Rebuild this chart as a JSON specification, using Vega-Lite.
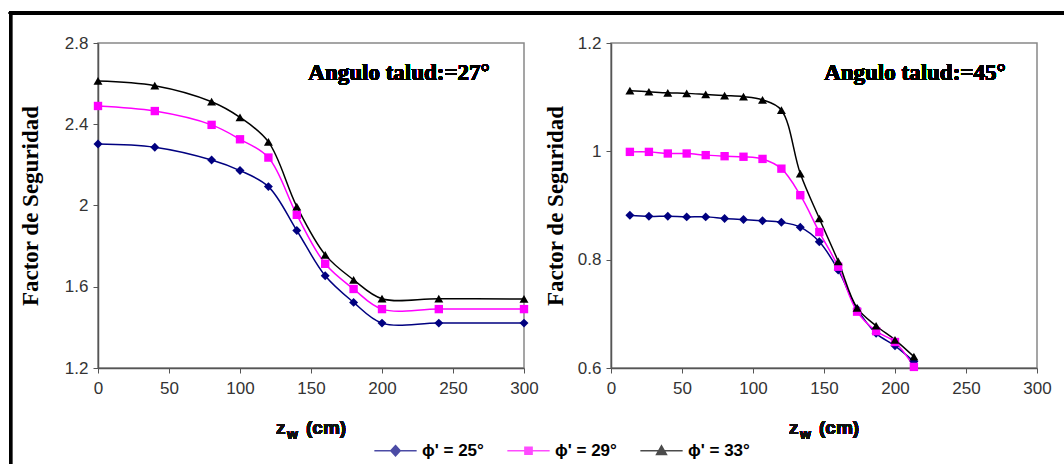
{
  "$schema": "https://vega.github.io/schema/vega-lite/v6.json",
  "padding": {"left": 6, "top": 9, "right": 0, "bottom": 0},
  "bounds": "flush",
  "spacing": 87,
  "datasets": {
    "s27": [
      {"z": 0, "fs": 2.303, "phi": "ϕ' = 25°"}, {"z": 40, "fs": 2.287, "phi": "ϕ' = 25°"}, {"z": 80, "fs": 2.224, "phi": "ϕ' = 25°"}, {"z": 100, "fs": 2.172, "phi": "ϕ' = 25°"}, {"z": 120, "fs": 2.093, "phi": "ϕ' = 25°"}, {"z": 140, "fs": 1.877, "phi": "ϕ' = 25°"}, {"z": 160, "fs": 1.654, "phi": "ϕ' = 25°"}, {"z": 180, "fs": 1.523, "phi": "ϕ' = 25°"}, {"z": 200, "fs": 1.421, "phi": "ϕ' = 25°"}, {"z": 240, "fs": 1.421, "phi": "ϕ' = 25°"}, {"z": 300, "fs": 1.421, "phi": "ϕ' = 25°"},
      {"z": 0, "fs": 2.49, "phi": "ϕ' = 29°"}, {"z": 40, "fs": 2.465, "phi": "ϕ' = 29°"}, {"z": 80, "fs": 2.397, "phi": "ϕ' = 29°"}, {"z": 100, "fs": 2.326, "phi": "ϕ' = 29°"}, {"z": 120, "fs": 2.236, "phi": "ϕ' = 29°"}, {"z": 140, "fs": 1.954, "phi": "ϕ' = 29°"}, {"z": 160, "fs": 1.713, "phi": "ϕ' = 29°"}, {"z": 180, "fs": 1.589, "phi": "ϕ' = 29°"}, {"z": 200, "fs": 1.49, "phi": "ϕ' = 29°"}, {"z": 240, "fs": 1.49, "phi": "ϕ' = 29°"}, {"z": 300, "fs": 1.49, "phi": "ϕ' = 29°"},
      {"z": 0, "fs": 2.613, "phi": "ϕ' = 33°"}, {"z": 40, "fs": 2.59, "phi": "ϕ' = 33°"}, {"z": 80, "fs": 2.511, "phi": "ϕ' = 33°"}, {"z": 100, "fs": 2.434, "phi": "ϕ' = 33°"}, {"z": 120, "fs": 2.313, "phi": "ϕ' = 33°"}, {"z": 140, "fs": 1.995, "phi": "ϕ' = 33°"}, {"z": 160, "fs": 1.757, "phi": "ϕ' = 33°"}, {"z": 180, "fs": 1.634, "phi": "ϕ' = 33°"}, {"z": 200, "fs": 1.541, "phi": "ϕ' = 33°"}, {"z": 240, "fs": 1.541, "phi": "ϕ' = 33°"}, {"z": 300, "fs": 1.54, "phi": "ϕ' = 33°"}
    ],
    "s45": [
      {"z": 13.3, "fs": 0.882, "phi": "ϕ' = 25°"}, {"z": 26.7, "fs": 0.88, "phi": "ϕ' = 25°"}, {"z": 40, "fs": 0.88, "phi": "ϕ' = 25°"}, {"z": 53.3, "fs": 0.879, "phi": "ϕ' = 25°"}, {"z": 66.7, "fs": 0.879, "phi": "ϕ' = 25°"}, {"z": 80, "fs": 0.876, "phi": "ϕ' = 25°"}, {"z": 93.3, "fs": 0.874, "phi": "ϕ' = 25°"}, {"z": 106.7, "fs": 0.872, "phi": "ϕ' = 25°"}, {"z": 120, "fs": 0.869, "phi": "ϕ' = 25°"}, {"z": 133.3, "fs": 0.86, "phi": "ϕ' = 25°"}, {"z": 146.7, "fs": 0.833, "phi": "ϕ' = 25°"}, {"z": 160, "fs": 0.781, "phi": "ϕ' = 25°"}, {"z": 173.3, "fs": 0.709, "phi": "ϕ' = 25°"}, {"z": 186.7, "fs": 0.664, "phi": "ϕ' = 25°"}, {"z": 200, "fs": 0.641, "phi": "ϕ' = 25°"}, {"z": 213.3, "fs": 0.612, "phi": "ϕ' = 25°"},
      {"z": 13.3, "fs": 0.999, "phi": "ϕ' = 29°"}, {"z": 26.7, "fs": 0.999, "phi": "ϕ' = 29°"}, {"z": 40, "fs": 0.996, "phi": "ϕ' = 29°"}, {"z": 53.3, "fs": 0.996, "phi": "ϕ' = 29°"}, {"z": 66.7, "fs": 0.993, "phi": "ϕ' = 29°"}, {"z": 80, "fs": 0.991, "phi": "ϕ' = 29°"}, {"z": 93.3, "fs": 0.99, "phi": "ϕ' = 29°"}, {"z": 106.7, "fs": 0.986, "phi": "ϕ' = 29°"}, {"z": 120, "fs": 0.968, "phi": "ϕ' = 29°"}, {"z": 133.3, "fs": 0.919, "phi": "ϕ' = 29°"}, {"z": 146.7, "fs": 0.851, "phi": "ϕ' = 29°"}, {"z": 160, "fs": 0.787, "phi": "ϕ' = 29°"}, {"z": 173.3, "fs": 0.704, "phi": "ϕ' = 29°"}, {"z": 186.7, "fs": 0.668, "phi": "ϕ' = 29°"}, {"z": 200, "fs": 0.648, "phi": "ϕ' = 29°"}, {"z": 213.3, "fs": 0.602, "phi": "ϕ' = 29°"},
      {"z": 13.3, "fs": 1.112, "phi": "ϕ' = 33°"}, {"z": 26.7, "fs": 1.11, "phi": "ϕ' = 33°"}, {"z": 40, "fs": 1.108, "phi": "ϕ' = 33°"}, {"z": 53.3, "fs": 1.107, "phi": "ϕ' = 33°"}, {"z": 66.7, "fs": 1.105, "phi": "ϕ' = 33°"}, {"z": 80, "fs": 1.103, "phi": "ϕ' = 33°"}, {"z": 93.3, "fs": 1.101, "phi": "ϕ' = 33°"}, {"z": 106.7, "fs": 1.095, "phi": "ϕ' = 33°"}, {"z": 120, "fs": 1.076, "phi": "ϕ' = 33°"}, {"z": 133.3, "fs": 0.959, "phi": "ϕ' = 33°"}, {"z": 146.7, "fs": 0.876, "phi": "ϕ' = 33°"}, {"z": 160, "fs": 0.797, "phi": "ϕ' = 33°"}, {"z": 173.3, "fs": 0.711, "phi": "ϕ' = 33°"}, {"z": 186.7, "fs": 0.678, "phi": "ϕ' = 33°"}, {"z": 200, "fs": 0.652, "phi": "ϕ' = 33°"}, {"z": 213.3, "fs": 0.621, "phi": "ϕ' = 33°"}
    ]
  },
  "hconcat": [
    {
      "width": 426,
      "height": 325,
      "data": {"name": "s27"},
      "layer": [
        {
          "transform": [{"filter": {"field": "z", "lt": -1}}],
          "mark": {"type": "point", "filled": false, "strokeWidth": 1.5},
          "encoding": {
            "x": {"field": "z", "type": "quantitative", "scale": {"domain": [0, 300]}, "axis": {"values": [0, 50, 100, 150, 200, 250, 300], "title": null}},
            "y": {"field": "fs", "type": "quantitative", "scale": {"domain": [1.2, 2.8]}, "axis": {"values": [1.2, 1.6, 2, 2.4, 2.8], "format": "~g", "title": "Factor de Seguridad", "titlePadding": 22}},
            "color": {"field": "phi", "type": "nominal",
              "scale": {"domain": ["ϕ' = 25°", "ϕ' = 29°", "ϕ' = 33°"], "range": ["#000080", "#FF00FF", "#000000"]},
              "legend": {"title": null, "orient": "none", "legendX": 289, "legendY": 399, "padding": 0, "direction": "horizontal", "symbolSize": 81, "symbolStrokeWidth": 1.5, "labelFont": "Liberation Sans", "labelFontSize": 17, "labelFontWeight": "bold", "labelColor": "#000", "labelOffset": 18, "columnPadding": 20}},
            "shape": {"field": "phi", "type": "nominal",
              "scale": {"domain": ["ϕ' = 25°", "ϕ' = 29°", "ϕ' = 33°"], "range": ["M-4.7,0H4.7M0,-1.15L1.05,0L0,1.15L-1.05,0ZM0,-0.8L0.73,0L0,0.8L-0.73,0ZM0,-0.45L0.41,0L0,0.45L-0.41,0Z", "M-4.7,0H4.7M-0.8,-0.8H0.8V0.8H-0.8ZM-0.5,-0.5H0.5V0.5H-0.5ZM-0.2,-0.2H0.2V0.2H-0.2Z", "M-4.7,0H4.7M0,-1.1L1.1,0.85H-1.1ZM0,-0.65L0.65,0.5H-0.65ZM0,-0.25L0.25,0.2H-0.25Z"]},
              "legend": {"title": null, "orient": "none", "legendX": 289, "legendY": 399, "padding": 0, "direction": "horizontal", "symbolSize": 81, "symbolStrokeWidth": 1.5, "labelFont": "Liberation Sans", "labelFontSize": 17, "labelFontWeight": "bold", "labelColor": "#000", "labelOffset": 18, "columnPadding": 20}}
          }
        },
        {
          "mark": {"type": "line", "interpolate": "catmull-rom", "strokeWidth": 1.5},
          "encoding": {
            "x": {"field": "z", "type": "quantitative"},
            "y": {"field": "fs", "type": "quantitative"},
            "color": {"field": "phi", "type": "nominal"}
          }
        },
        {
          "transform": [{"filter": {"field": "phi", "equal": "ϕ' = 25°"}}],
          "mark": {"type": "point", "shape": "diamond", "filled": true, "opacity": 1, "size": 80},
          "encoding": {"x": {"field": "z", "type": "quantitative"}, "y": {"field": "fs", "type": "quantitative"}, "color": {"field": "phi", "type": "nominal"}}
        },
        {
          "transform": [{"filter": {"field": "phi", "equal": "ϕ' = 29°"}}],
          "mark": {"type": "point", "shape": "square", "filled": true, "opacity": 1, "size": 70},
          "encoding": {"x": {"field": "z", "type": "quantitative"}, "y": {"field": "fs", "type": "quantitative"}, "color": {"field": "phi", "type": "nominal"}}
        },
        {
          "transform": [{"filter": {"field": "phi", "equal": "ϕ' = 33°"}}],
          "mark": {"type": "point", "shape": "triangle-up", "filled": true, "opacity": 1, "size": 80},
          "encoding": {"x": {"field": "z", "type": "quantitative"}, "y": {"field": "fs", "type": "quantitative"}, "color": {"field": "phi", "type": "nominal"}}
        },
        {
          "mark": {"type": "text", "font": "Liberation Serif", "fontWeight": "bold", "fontSize": 23, "color": "#000"},
          "encoding": {"x": {"datum": 212}, "y": {"datum": 2.652}, "text": {"value": "Angulo talud:=27°"}}
        },
        {
          "mark": {"type": "text", "align": "left", "baseline": "alphabetic", "dx": -35, "dy": 66, "font": "Liberation Sans", "fontWeight": "bold", "fontSize": 19, "color": "#111"},
          "encoding": {"x": {"datum": 150}, "y": {"datum": 1.2}, "text": {"value": "z"}}
        },
        {
          "mark": {"type": "text", "align": "left", "baseline": "alphabetic", "dx": -24, "dy": 71, "font": "Liberation Sans", "fontWeight": "bold", "fontSize": 14, "color": "#111"},
          "encoding": {"x": {"datum": 150}, "y": {"datum": 1.2}, "text": {"value": "w"}}
        },
        {
          "mark": {"type": "text", "align": "left", "baseline": "alphabetic", "dx": -5, "dy": 66, "font": "Liberation Sans", "fontWeight": "bold", "fontSize": 19, "color": "#111"},
          "encoding": {"x": {"datum": 150}, "y": {"datum": 1.2}, "text": {"value": "(cm)"}}
        },
        {
          "mark": {"type": "rule", "color": "#000", "strokeWidth": 3},
          "encoding": {"x": {"datum": -62.7}, "x2": {"datum": 681}, "y": {"datum": 2.9476}}
        },
        {
          "mark": {"type": "rule", "color": "#000", "strokeWidth": 3},
          "encoding": {"x": {"datum": -61.6}, "y": {"datum": 2.955}, "y2": {"datum": 0.7278}}
        }
      ]
    },
    {
      "width": 426,
      "height": 325,
      "data": {"name": "s45"},
      "layer": [
        {
          "mark": {"type": "line", "interpolate": "catmull-rom", "strokeWidth": 1.5},
          "encoding": {
            "x": {"field": "z", "type": "quantitative", "scale": {"domain": [0, 300]}, "axis": {"values": [0, 50, 100, 150, 200, 250, 300], "title": null}},
            "y": {"field": "fs", "type": "quantitative", "scale": {"domain": [0.6, 1.2]}, "axis": {"values": [0.6, 0.8, 1, 1.2], "format": "~g", "title": "Factor de Seguridad", "titlePadding": 10}},
            "color": {"field": "phi", "type": "nominal"}
          }
        },
        {
          "transform": [{"filter": {"field": "phi", "equal": "ϕ' = 25°"}}],
          "mark": {"type": "point", "shape": "diamond", "filled": true, "opacity": 1, "size": 80},
          "encoding": {"x": {"field": "z", "type": "quantitative"}, "y": {"field": "fs", "type": "quantitative"}, "color": {"field": "phi", "type": "nominal"}}
        },
        {
          "transform": [{"filter": {"field": "phi", "equal": "ϕ' = 29°"}}],
          "mark": {"type": "point", "shape": "square", "filled": true, "opacity": 1, "size": 70},
          "encoding": {"x": {"field": "z", "type": "quantitative"}, "y": {"field": "fs", "type": "quantitative"}, "color": {"field": "phi", "type": "nominal"}}
        },
        {
          "transform": [{"filter": {"field": "phi", "equal": "ϕ' = 33°"}}],
          "mark": {"type": "point", "shape": "triangle-up", "filled": true, "opacity": 1, "size": 80},
          "encoding": {"x": {"field": "z", "type": "quantitative"}, "y": {"field": "fs", "type": "quantitative"}, "color": {"field": "phi", "type": "nominal"}}
        },
        {
          "mark": {"type": "text", "font": "Liberation Serif", "fontWeight": "bold", "fontSize": 23, "color": "#000"},
          "encoding": {"x": {"datum": 214}, "y": {"datum": 1.1445}, "text": {"value": "Angulo talud:=45°"}}
        },
        {
          "mark": {"type": "text", "align": "left", "baseline": "alphabetic", "dx": -35, "dy": 66, "font": "Liberation Sans", "fontWeight": "bold", "fontSize": 19, "color": "#111"},
          "encoding": {"x": {"datum": 150}, "y": {"datum": 0.6}, "text": {"value": "z"}}
        },
        {
          "mark": {"type": "text", "align": "left", "baseline": "alphabetic", "dx": -24, "dy": 71, "font": "Liberation Sans", "fontWeight": "bold", "fontSize": 14, "color": "#111"},
          "encoding": {"x": {"datum": 150}, "y": {"datum": 0.6}, "text": {"value": "w"}}
        },
        {
          "mark": {"type": "text", "align": "left", "baseline": "alphabetic", "dx": -5, "dy": 66, "font": "Liberation Sans", "fontWeight": "bold", "fontSize": 19, "color": "#111"},
          "encoding": {"x": {"datum": 150}, "y": {"datum": 0.6}, "text": {"value": "(cm)"}}
        }
      ]
    }
  ],
  "config": {
    "font": "Liberation Sans",
    "view": {"stroke": "#888", "strokeWidth": 1.5},
    "axis": {
      "grid": false,
      "domainColor": "#555",
      "domainWidth": 1.5,
      "tickColor": "#555",
      "tickSize": 5,
      "labelFont": "Liberation Sans",
      "labelFontSize": 17,
      "labelColor": "#333",
      "labelFlush": false,
      "labelOverlap": false,
      "titleFont": "Liberation Serif",
      "titleFontSize": 23,
      "titleFontWeight": "bold",
      "titleColor": "#000"
    },
    "axisX": {"labelPadding": 7},
    "axisY": {"labelPadding": 5}
  }
}
